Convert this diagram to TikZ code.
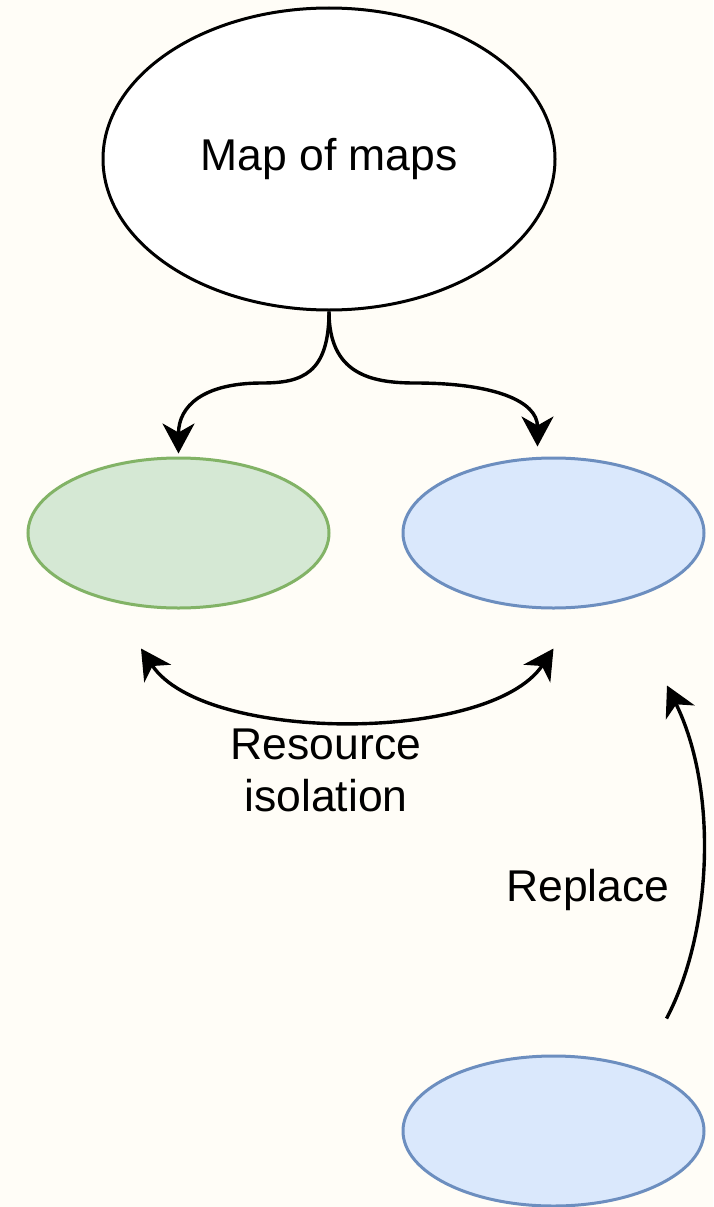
\documentclass[tikz,border=0pt]{standalone}
\usepackage{fontspec}
\setmainfont{Liberation Sans}
\usetikzlibrary{shapes.geometric,arrows.meta,calc}
\definecolor{paper}{HTML}{FFFDF7}
\definecolor{greenfill}{HTML}{D5E8D4}
\definecolor{greenline}{HTML}{82B366}
\definecolor{bluefill}{HTML}{DAE8FC}
\definecolor{blueline}{HTML}{6C8EBF}
\tikzset{
  oval/.style={ellipse, inner sep=0pt, line width=3pt},
  greenoval/.style={oval, draw=greenline, fill=greenfill, minimum width=301pt, minimum height=150pt},
  blueoval/.style={oval, draw=blueline, fill=bluefill, minimum width=301pt, minimum height=150pt},
  link/.style={line width=3.4pt, -{Stealth[length=30pt,width=32pt,inset=9pt]}},
  bothlink/.style={line width=3.4pt, {Stealth[length=30pt,width=32pt,inset=9pt]}-{Stealth[length=30pt,width=32pt,inset=9pt]}},
  label/.style={inner sep=0pt, font=\fontsize{44.5}{52}\selectfont, align=center}
}
\begin{document}
\begin{tikzpicture}[x=1pt,y=-1pt]
  % page
  \fill[paper] (0,0) rectangle (713,1207);
  \useasboundingbox (0,0) rectangle (713,1207);

  % shapes
  \node[oval, draw=black, fill=white, minimum width=452pt, minimum height=302pt,
        font=\fontsize{44.5}{52}\selectfont] (mapmaps) at (329,159) {Map of maps};
  \node[greenoval] (left) at (178.5,533) {};
  \node[blueoval] (right) at (553.5,533) {};
  \node[blueoval] (spare) at (553.5,1131) {};

  % arrow ends and bends
  \coordinate (lefttip) at ([yshift=3pt]left.north);
  \coordinate (righttip) at ([xshift=-16pt,yshift=10pt]right.north);
  \coordinate (leftbend) at (262,383);
  \coordinate (rightbend) at (415,383);
  \coordinate (isoA) at ([xshift=-37.5pt,yshift=-39pt]left.south);
  \coordinate (isoB) at ([yshift=-39pt]right.south);
  \coordinate (repFrom) at ([xshift=113pt,yshift=36pt]spare.north);
  \coordinate (repTo) at ([xshift=113.5pt,yshift=-76pt]right.south);

  % split from the map of maps
  \draw[link] (mapmaps.south)
      .. controls ($(mapmaps.south)+(0,62)$) and ($(leftbend)+(40,0)$) .. (leftbend)
      .. controls ($(leftbend)+(-58,0)$) and ($(lefttip)+(0,-48)$) .. (lefttip);
  \draw[link] (mapmaps.south)
      .. controls ($(mapmaps.south)+(0,62)$) and ($(rightbend)+(-45,0)$) .. (rightbend)
      .. controls ($(rightbend)+(80,0)$) and ($(righttip)+(0,-45)$) .. (righttip);

  % resource isolation
  \draw[bothlink] (isoA) .. controls ($(isoA)+(63,95)$) and ($(isoB)+(-63,95)$) .. (isoB);
  \node[label, anchor=north] (isolabel) at (326,729) {Resource\\isolation};

  % replace
  \draw[link] (repFrom) .. controls ($(repFrom)+(45,-85)$) and ($(repTo)+(52,106)$) .. (repTo);
  \node[label, anchor=base] (replabel) at (588,901) {Replace};
\end{tikzpicture}
\end{document}
